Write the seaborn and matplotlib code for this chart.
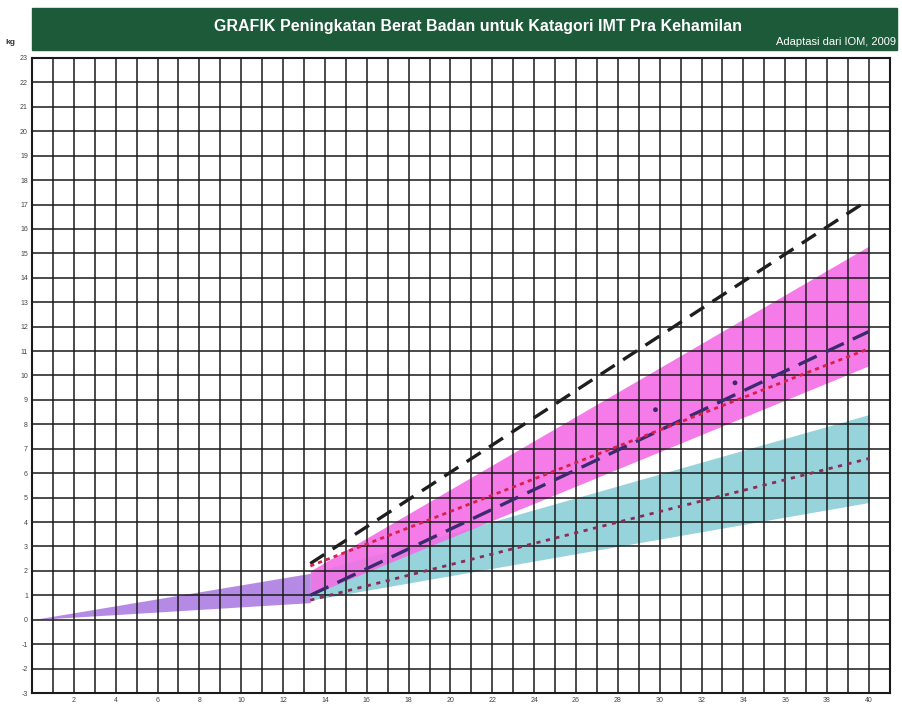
import numpy as np
import pandas as pd
import seaborn as sns
import matplotlib.pyplot as plt

# --- data ---
weeks_t1 = [0, 13.3]
t1_low = [0, 0.7]
t1_high = [0, 1.9]

weeks_t23 = [13.3, 40]
normal_low = [1.0, 10.4]
normal_high = [2.0, 15.3]
obese_low = [0.8, 4.8]
obese_high = [1.9, 8.4]
under_low = [1.0, 11.8]
under_high = [2.3, 17.2]
over_low = [0.8, 6.6]
over_high = [2.2, 11.1]

mark_weeks = [29.8, 33.6]
mark_kg = [8.6, 9.7]

x_ticks = list(range(0, 42))
x_labels = [str(w) if (w % 2 == 0 and w > 0) else '' for w in x_ticks]
y_ticks = list(range(-3, 24))

TITLE = 'GRAFIK Peningkatan Berat Badan untuk Katagori IMT Pra Kehamilan'
SOURCE = 'Adaptasi dari IOM, 2009'

sns.set_theme(style='white')
plt.rcParams['font.family'] = ['Liberation Sans', 'DejaVu Sans']

fig = plt.figure(figsize=(9.02, 7.06), dpi=100)
ax = fig.add_axes([0.0355, 0.0184, 0.951, 0.8995])

# bands (pink drawn semi-transparent so the overlap with cyan turns lilac)
ax.fill_between(weeks_t23, obese_low, obese_high, color='#97d3da', lw=0, zorder=1)
ax.fill_between(weeks_t23, normal_low, normal_high, color='#f46ee6', alpha=0.9, lw=0, zorder=1.1)
ax.fill_between(weeks_t1, t1_low, t1_high, color='#b58ae4', lw=0, zorder=1.2)

# lines
lines = pd.DataFrame({
    'week': weeks_t23 * 4,
    'kg': under_high + under_low + over_high + over_low,
    'seri': ['under_high'] * 2 + ['under_low'] * 2 + ['over_high'] * 2 + ['over_low'] * 2,
})
styles = {
    'under_high': dict(color='#1e1e1e', lw=2.4, dashes=(5, 3)),
    'under_low': dict(color='#3b2a6e', lw=2.4, dashes=(6, 3)),
    'over_high': dict(color='#d8204a', lw=2.0, dashes=(1.5, 1.5)),
    'over_low': dict(color='#8a2c55', lw=2.0, dashes=(1.5, 2)),
}
for name, st in styles.items():
    d = lines[lines['seri'] == name]
    sns.lineplot(data=d, x='week', y='kg', ax=ax, color=st['color'], lw=st['lw'],
                 zorder=3, legend=False)
    ax.lines[-1].set_dashes(st['dashes'])

sns.scatterplot(x=mark_weeks, y=mark_kg, ax=ax, color='#3a2a60', s=12, zorder=4,
                edgecolor='none', legend=False)

# axes / grid
ax.set_xlim(0, 41)
ax.set_ylim(-3, 23)
ax.set_xticks(x_ticks)
ax.set_xticklabels(x_labels)
ax.set_yticks(y_ticks)
ax.set_yticklabels([str(v) for v in y_ticks])
ax.tick_params(axis='both', length=0, labelsize=5, colors='#444444', pad=3)
ax.set_xlabel('')
ax.set_ylabel('')
ax.set_axisbelow(False)
ax.grid(True, color='#1a1a1a', lw=1.1, zorder=2.5)
for sp in ax.spines.values():
    sp.set_color('#1a1a1a')
    sp.set_linewidth(1.5)

# header bar
fig.patches.append(plt.Rectangle((0.035, 0.929), 0.96, 0.060, transform=fig.transFigure,
                                 color='#1d5a3a', zorder=0))
fig.text(0.53, 0.962, TITLE, color='white', fontsize=11.5, fontweight='bold',
         ha='center', va='center')
fig.text(0.993, 0.940, SOURCE, color='white', fontsize=8, ha='right', va='center')
fig.text(0.012, 0.940, 'kg', color='#333333', fontsize=6, fontweight='bold',
         ha='center', va='center')

fig.savefig('out.png', dpi=100)
